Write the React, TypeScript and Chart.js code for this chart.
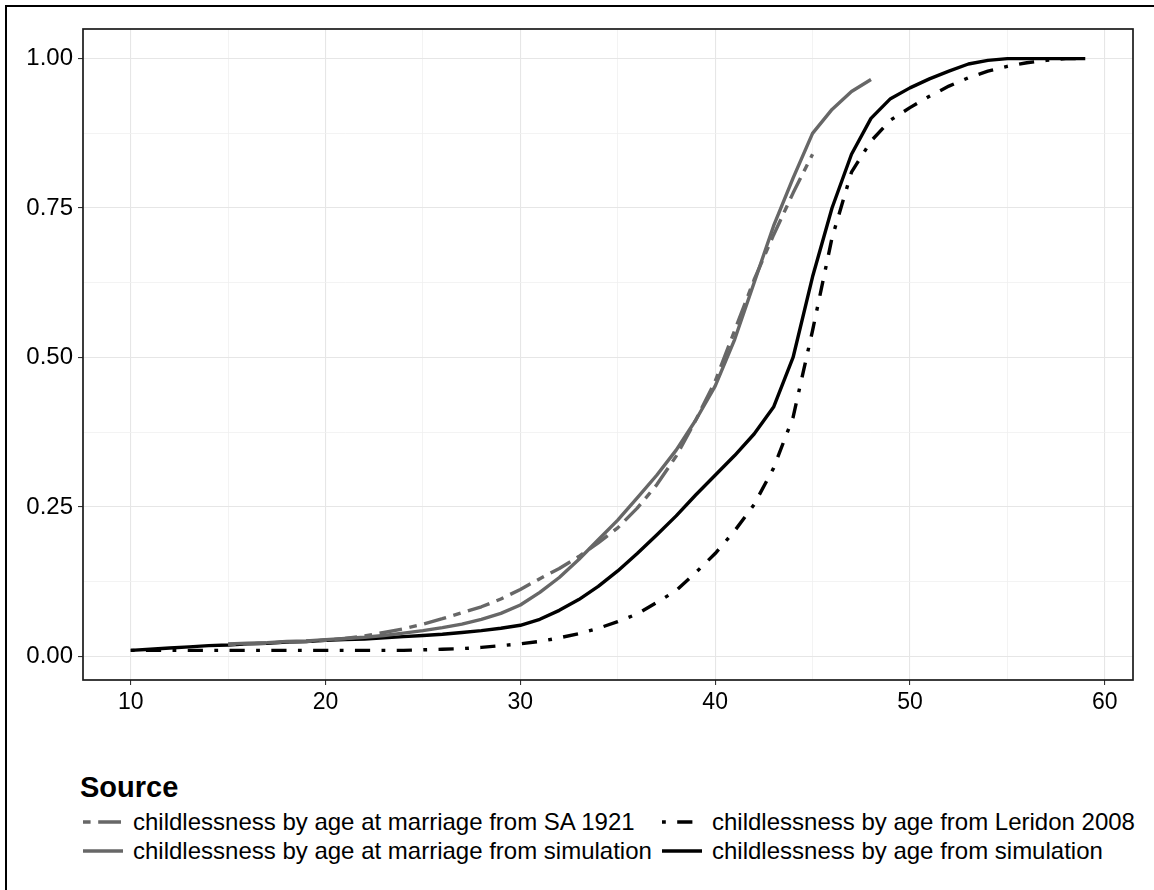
import React, { useEffect, useRef } from "react";
import { Chart, registerables } from "chart.js";

Chart.register(...registerables);

const agesSA1921 = [15, 16, 17, 18, 19, 20, 21, 22, 23, 24, 25, 26, 27, 28, 29, 30, 31, 32, 33, 34, 35, 36, 37, 38, 39, 40, 41, 42, 43, 44, 45];
const valuesSA1921 = [0.020, 0.021, 0.022, 0.024, 0.025, 0.027, 0.030, 0.034, 0.040, 0.046, 0.054, 0.063, 0.073, 0.083, 0.096, 0.112, 0.130, 0.147, 0.167, 0.190, 0.215, 0.248, 0.287, 0.335, 0.395, 0.460, 0.545, 0.630, 0.705, 0.775, 0.840];

const agesSimMarriage = [15, 16, 17, 18, 19, 20, 21, 22, 23, 24, 25, 26, 27, 28, 29, 30, 31, 32, 33, 34, 35, 36, 37, 38, 39, 40, 41, 42, 43, 44, 45, 46, 47, 48];
const valuesSimMarriage = [0.021, 0.022, 0.023, 0.025, 0.026, 0.028, 0.030, 0.032, 0.035, 0.039, 0.043, 0.048, 0.054, 0.062, 0.072, 0.086, 0.107, 0.132, 0.162, 0.195, 0.228, 0.265, 0.303, 0.345, 0.395, 0.452, 0.530, 0.625, 0.720, 0.800, 0.875, 0.915, 0.945, 0.965];

const agesLeridon = [10, 11, 12, 13, 14, 15, 16, 17, 18, 19, 20, 21, 22, 23, 24, 25, 26, 27, 28, 29, 30, 31, 32, 33, 34, 35, 36, 37, 38, 39, 40, 41, 42, 43, 44, 45, 46, 47, 48, 49, 50, 51, 52, 53, 54, 55, 56, 57, 58, 59];
const valuesLeridon = [0.010, 0.010, 0.010, 0.010, 0.010, 0.010, 0.010, 0.010, 0.010, 0.010, 0.010, 0.010, 0.010, 0.010, 0.010, 0.011, 0.012, 0.013, 0.015, 0.018, 0.021, 0.025, 0.031, 0.038, 0.047, 0.058, 0.071, 0.090, 0.110, 0.140, 0.172, 0.210, 0.254, 0.315, 0.400, 0.545, 0.700, 0.810, 0.862, 0.897, 0.918, 0.937, 0.954, 0.968, 0.979, 0.987, 0.993, 0.997, 1.000, 1.000];

const agesSim = [10, 11, 12, 13, 14, 15, 16, 17, 18, 19, 20, 21, 22, 23, 24, 25, 26, 27, 28, 29, 30, 31, 32, 33, 34, 35, 36, 37, 38, 39, 40, 41, 42, 43, 44, 45, 46, 47, 48, 49, 50, 51, 52, 53, 54, 55, 56, 57, 58, 59];
const valuesSim = [0.010, 0.012, 0.014, 0.016, 0.018, 0.019, 0.021, 0.022, 0.024, 0.025, 0.027, 0.028, 0.029, 0.031, 0.033, 0.035, 0.037, 0.040, 0.043, 0.047, 0.052, 0.062, 0.077, 0.095, 0.117, 0.143, 0.172, 0.203, 0.235, 0.270, 0.303, 0.336, 0.372, 0.417, 0.500, 0.635, 0.750, 0.840, 0.900, 0.933, 0.951, 0.966, 0.979, 0.991, 0.997, 1.000, 1.000, 1.000, 1.000, 1.000];

const xTicks = [10, 15, 20, 25, 30, 35, 40, 45, 50, 55, 60];
const xMajor = [10, 20, 30, 40, 50, 60];
const yTicks = [0, 0.125, 0.25, 0.375, 0.5, 0.625, 0.75, 0.875, 1.0];
const yMajor = [0, 0.25, 0.5, 0.75, 1.0];

const labelSA = "childlessness by age at marriage from SA 1921";
const labelSimMarriage = "childlessness by age at marriage from simulation";
const labelLeridon = "childlessness by age from Leridon 2008";
const labelSim = "childlessness by age from simulation";
const legendTitle = "Source";

const GREY = "#676767";
const BLACK = "#000000";
const LW = 3.4;
const DASH_TWO = [7.6, 7.6, 22.8, 7.6];
const DASH_DOT = [3.8, 11.4, 15.2, 11.4];
const FONT = "'Liberation Sans', Arial, Helvetica, sans-serif";

const toXY = (xs: number[], ys: number[]) => xs.map((x, i) => ({ x, y: ys[i] }));
const isMajor = (list: number[], v: number) => list.some((m) => Math.abs(m - v) < 1e-9);

const panelBorder = {
  id: "panelBorder",
  afterDatasetsDraw(chart: any) {
    const { ctx, chartArea } = chart;
    ctx.save();
    ctx.strokeStyle = "#1a1a1a";
    ctx.lineWidth = 1.7;
    ctx.strokeRect(chartArea.left, chartArea.top, chartArea.right - chartArea.left, chartArea.bottom - chartArea.top);
    ctx.restore();
  },
};

function LegendKey({ color, dash }: { color: string; dash?: number[] }) {
  return (
    <svg width={40} height={12} style={{ display: "block" }}>
      <line x1={0} y1={6} x2={40} y2={6} stroke={color} strokeWidth={LW} strokeDasharray={dash ? dash.join(" ") : undefined} strokeLinecap="butt" />
    </svg>
  );
}

function LegendItem({ left, top, color, dash, label }: any) {
  return (
    <div style={{ position: "absolute", left, top, height: 28, display: "flex", alignItems: "center" }}>
      <LegendKey color={color} dash={dash} />
      <span style={{ marginLeft: 10, fontFamily: FONT, fontSize: 24, color: "#000", whiteSpace: "nowrap", lineHeight: "28px" }}>{label}</span>
    </div>
  );
}

export default function App() {
  const ref = useRef<HTMLCanvasElement | null>(null);

  useEffect(() => {
    document.body.style.margin = "0";
    const canvas = ref.current;
    if (!canvas) return;
    const chart = new Chart(canvas, {
      type: "line",
      data: {
        datasets: [
          { label: labelSA, data: toXY(agesSA1921, valuesSA1921), borderColor: GREY, borderWidth: LW, borderDash: DASH_TWO, pointRadius: 0, tension: 0, fill: false, borderCapStyle: "butt", borderJoinStyle: "round" },
          { label: labelSimMarriage, data: toXY(agesSimMarriage, valuesSimMarriage), borderColor: GREY, borderWidth: LW, pointRadius: 0, tension: 0, fill: false, borderJoinStyle: "round" },
          { label: labelLeridon, data: toXY(agesLeridon, valuesLeridon), borderColor: BLACK, borderWidth: LW, borderDash: DASH_DOT, pointRadius: 0, tension: 0, fill: false, borderCapStyle: "butt", borderJoinStyle: "round" },
          { label: labelSim, data: toXY(agesSim, valuesSim), borderColor: BLACK, borderWidth: LW, pointRadius: 0, tension: 0, fill: false, borderJoinStyle: "round" },
        ],
      },
      options: {
        animation: false,
        responsive: false,
        maintainAspectRatio: false,
        layout: { padding: { left: 0, top: 29, right: 21, bottom: 0 } },
        plugins: { legend: { display: false }, tooltip: { enabled: false } },
        scales: {
          x: {
            type: "linear",
            min: 7.55,
            max: 61.45,
            border: { display: false },
            afterBuildTicks: (s: any) => {
              s.ticks = xTicks.map((v) => ({ value: v }));
            },
            afterFit: (s: any) => {
              s.height = 80;
            },
            grid: {
              color: (c: any) => (c.tick && isMajor(xMajor, c.tick.value) ? "#e6e6e6" : "#f0f0f0"),
              lineWidth: (c: any) => (c.tick && isMajor(xMajor, c.tick.value) ? 1.1 : 0.8),
              tickColor: (c: any) => (c.tick && isMajor(xMajor, c.tick.value) ? "#333333" : "rgba(0,0,0,0)"),
              tickLength: 5,
              drawTicks: true,
            },
            ticks: {
              autoSkip: false,
              maxRotation: 0,
              padding: 4,
              color: "#000",
              font: { family: FONT, size: 23 },
              callback: (v: any) => (isMajor(xMajor, Number(v)) ? String(v) : ""),
            },
          },
          y: {
            type: "linear",
            min: -0.0395,
            max: 1.0495,
            border: { display: false },
            afterBuildTicks: (s: any) => {
              s.ticks = yTicks.map((v) => ({ value: v }));
            },
            afterFit: (s: any) => {
              s.width = 83;
            },
            grid: {
              color: (c: any) => (c.tick && isMajor(yMajor, c.tick.value) ? "#e6e6e6" : "#f0f0f0"),
              lineWidth: (c: any) => (c.tick && isMajor(yMajor, c.tick.value) ? 1.1 : 0.8),
              tickColor: (c: any) => (c.tick && isMajor(yMajor, c.tick.value) ? "#333333" : "rgba(0,0,0,0)"),
              tickLength: 5,
              drawTicks: true,
            },
            ticks: {
              autoSkip: false,
              padding: 5,
              color: "#000",
              font: { family: FONT, size: 24 },
              callback: (v: any) => (isMajor(yMajor, Number(v)) ? Number(v).toFixed(2) : ""),
            },
          },
        },
      },
      plugins: [panelBorder],
    });
    return () => chart.destroy();
  }, []);

  return (
    <div style={{ position: "relative", width: 1154, height: 890, background: "#fff", overflow: "hidden" }}>
      <div style={{ position: "absolute", left: 5, top: 5, width: 1160, height: 900, borderLeft: "2px solid #000", borderTop: "2px solid #000" }} />
      <canvas ref={ref} width={1154} height={760} style={{ position: "absolute", left: 0, top: 0, width: 1154, height: 760 }} />
      <div style={{ position: "absolute", left: 80, top: 771, fontFamily: FONT, fontSize: 29, fontWeight: "bold", lineHeight: "32px", color: "#000" }}>{legendTitle}</div>
      <LegendItem left={83} top={808} color={GREY} dash={DASH_TWO} label={labelSA} />
      <LegendItem left={83} top={837} color={GREY} label={labelSimMarriage} />
      <LegendItem left={662} top={808} color={BLACK} dash={DASH_DOT} label={labelLeridon} />
      <LegendItem left={662} top={837} color={BLACK} label={labelSim} />
    </div>
  );
}
